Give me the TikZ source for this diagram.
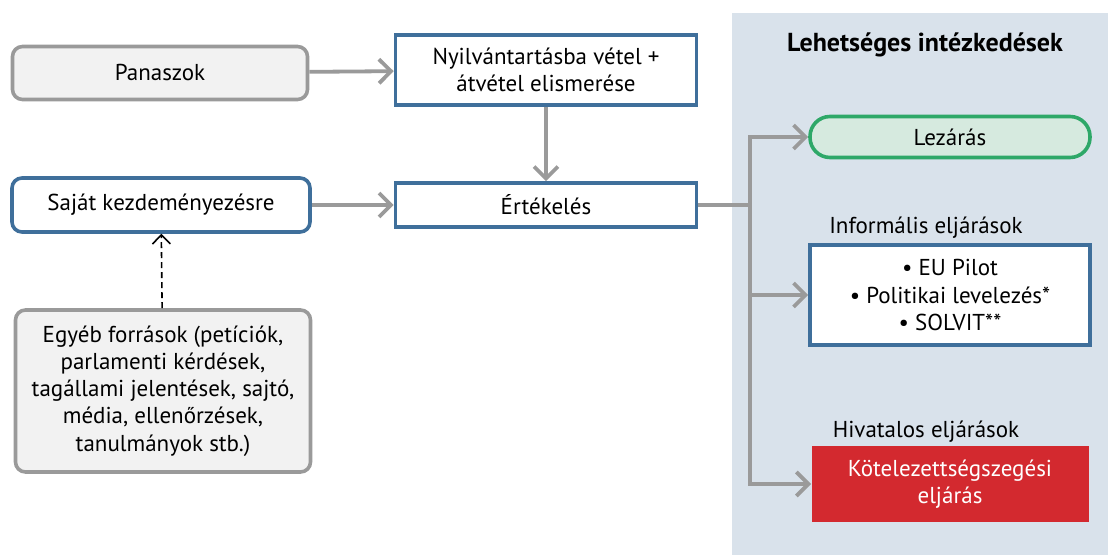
\documentclass[tikz,border=0pt]{standalone}
\usepackage{fontspec}
\setmainfont{PT Sans}
\usetikzlibrary{arrows.meta}

\definecolor{frameblue}{HTML}{3F6F9B}
\definecolor{framegray}{HTML}{9A9A9A}
\definecolor{boxgray}{HTML}{F2F2F2}
\definecolor{panelblue}{HTML}{D9E2EB}
\definecolor{closegreen}{HTML}{2EA868}
\definecolor{closefill}{HTML}{D6EADF}
\definecolor{procred}{HTML}{D3292F}

\tikzset{
  srcbox/.style={draw=framegray,fill=boxgray,line width=1.8pt,rounded corners=5pt,align=center},
  bluebox/.style={draw=frameblue,fill=white,line width=1.8pt,align=center},
  arr/.style={draw=framegray,line width=1.9pt,-{Straight Barb[length=6pt,width=12pt]}},
  link/.style={draw=framegray,line width=1.9pt},
}

\begin{document}
\begin{tikzpicture}[x=0.5pt,y=-0.5pt,font=\fontsize{11.5}{13.6}\selectfont]
  \useasboundingbox (0,0) rectangle (1108,555);
  % right panel
  \fill[panelblue] (732,13) rectangle (1108,555);
  \node[font=\fontsize{13}{15}\selectfont\bfseries] (title) at (925,45) {Lehetséges intézkedések};

  % left part
  \node[srcbox,minimum width=147.5pt,minimum height=26.5pt] (pan) at (160,73) {Panaszok};
  \node[bluebox,minimum width=150.5pt,minimum height=35pt] (nyil) at (546,70) {Nyilvántartásba vétel +\\átvétel elismerése};
  \node[bluebox,rounded corners=5pt,minimum width=149pt,minimum height=27pt] (sajat) at (161,205) {Saját kezdeményezésre};
  \node[bluebox,minimum width=150.5pt,minimum height=22pt] (ert) at (546,205) {Értékelés};
  \node[srcbox,minimum width=147.5pt,minimum height=81pt] (egyeb) at (163,391)
    {Egyéb források (petíciók,\\parlamenti kérdések,\\tagállami jelentések, sajtó,\\média, ellenőrzések,\\tanulmányok stb.)};

  \draw[arr] (pan) -- (nyil);
  \draw[arr] (nyil) -- (ert);
  \draw[arr] (sajat) -- (ert);
  \draw[line width=0.8pt,dash pattern=on 3pt off 2pt,-{Straight Barb[length=4.5pt,width=9pt]}] (egyeb) -- (sajat);

  % possible measures
  \node[draw=closegreen,fill=closefill,line width=1.8pt,rounded corners=10pt,minimum width=140pt,minimum height=20.5pt] (lez) at (950,137) {Lezárás};
  \node (inflab) at (926,228) {Informális eljárások};
  \node[bluebox,minimum width=140pt,minimum height=50pt] (inf) at (950,295)
    {\textbullet\ EU Pilot\\\textbullet\ Politikai levelezés*\\\textbullet\ SOLVIT**};
  \node (hivlab) at (926,432) {Hivatalos eljárások};
  \node[fill=procred,text=white,align=center,minimum width=138.5pt,minimum height=38pt] (kot) at (950,484)
    {Kötelezettségszegési\\eljárás};

  \coordinate (split) at (750,205);
  \draw[link] (ert) -- (split);
  \draw[arr] (split) |- (lez);
  \draw[arr] (split |- inf.west) -- (inf);
  \draw[arr] (split) |- (kot);
\end{tikzpicture}
\end{document}
